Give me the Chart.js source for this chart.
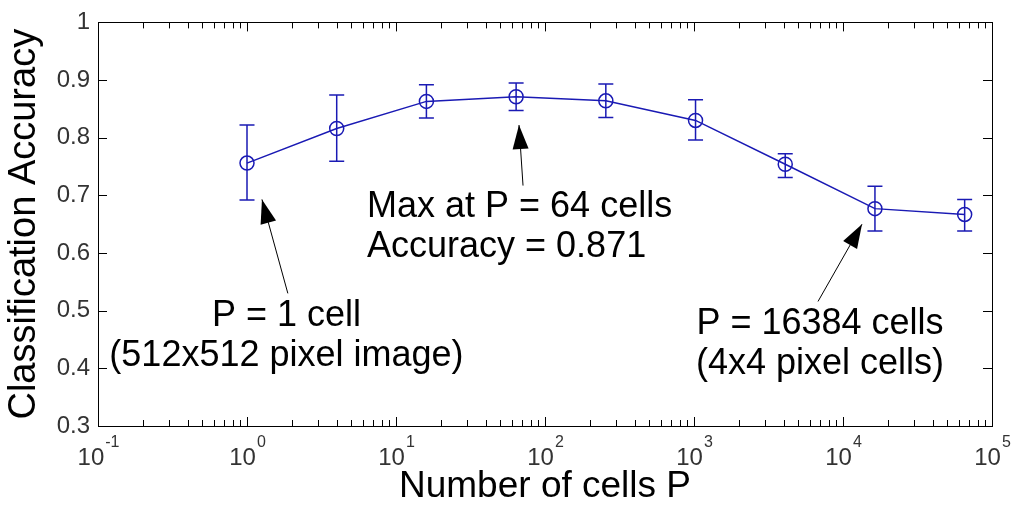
<!DOCTYPE html>
<html>
<head>
<meta charset="utf-8">
<script src="https://cdn.jsdelivr.net/npm/chart.js@4/dist/chart.umd.min.js"></script>
<style>
  html, body { margin: 0; padding: 0; background: #fff; }
  #wrap { width: 1011px; height: 510px; }
</style>
</head>
<body>
<div id="wrap"><canvas id="accChart"></canvas></div>
<script>
// number of cells P and mean accuracy with error bar limits
const cells    = [1, 4, 16, 64, 256, 1024, 4096, 16384, 65536];
const accuracy = [0.756, 0.816, 0.863, 0.871, 0.864, 0.830, 0.754, 0.677, 0.667];
const errLow   = [0.692, 0.759, 0.834, 0.847, 0.835, 0.796, 0.731, 0.638, 0.638];
const errHigh  = [0.822, 0.874, 0.892, 0.895, 0.893, 0.866, 0.772, 0.716, 0.693];

const xExponents = [-1, 0, 1, 2, 3, 4, 5];
const yTicks = [0.3, 0.4, 0.5, 0.6, 0.7, 0.8, 0.9, 1];

const FONT = '"Liberation Sans", Arial, sans-serif';
const BLUE = '#1a1ab4';

// text notes and arrows, in data coordinates
const notes = [
  { lines: ['P = 1 cell', '(512x512 pixel image)'], x: 1.84, y: 0.473, align: 'center' },
  { lines: ['Max at P = 64 cells', 'Accuracy = 0.871'], x: 6.39, y: 0.662, align: 'left' },
  { lines: ['P = 16384 cells', '(4x4 pixel cells)'], x: 7008, y: 0.460, align: 'center' }
];
const arrows = [
  { from: [1.88, 0.530], to: [1.26, 0.693] },
  { from: [71.2, 0.717], to: [66.9, 0.822] },
  { from: [6796, 0.516], to: [13410, 0.650] }
];

const errorBars = {
  id: 'errorBars',
  beforeDatasetsDraw(chart) {
    const { ctx, scales: { x, y } } = chart;
    ctx.save();
    ctx.strokeStyle = BLUE;
    ctx.lineWidth = 1.5;
    cells.forEach((c, i) => {
      const px = x.getPixelForValue(c);
      const lo = y.getPixelForValue(errLow[i]);
      const hi = y.getPixelForValue(errHigh[i]);
      ctx.beginPath();
      ctx.moveTo(px, lo); ctx.lineTo(px, hi);
      ctx.moveTo(px - 7.5, lo); ctx.lineTo(px + 7.5, lo);
      ctx.moveTo(px - 7.5, hi); ctx.lineTo(px + 7.5, hi);
      ctx.stroke();
    });
    ctx.restore();
  }
};

const frameAndNotes = {
  id: 'frameAndNotes',
  afterDraw(chart) {
    const { ctx, chartArea: a, scales: { x, y } } = chart;
    ctx.save();
    ctx.strokeStyle = '#000';
    ctx.lineWidth = 1;
    ctx.strokeRect(Math.round(a.left) + 0.5, Math.round(a.top) + 0.5,
                   Math.round(a.right - a.left), Math.round(a.bottom - a.top));

    // log ticks, top and bottom, pointing inward
    ctx.beginPath();
    xExponents.forEach((e, k) => {
      for (let m = 1; m <= 9; m++) {
        if (m > 1 && k === xExponents.length - 1) break;
        const px = Math.round(x.getPixelForValue(m * Math.pow(10, e))) + 0.5;
        const len = m === 1 ? 9 : 6;
        ctx.moveTo(px, a.bottom); ctx.lineTo(px, a.bottom - len);
        ctx.moveTo(px, a.top); ctx.lineTo(px, a.top + len);
      }
    });
    yTicks.forEach(v => {
      const py = Math.round(y.getPixelForValue(v)) + 0.5;
      ctx.moveTo(a.left, py); ctx.lineTo(a.left + 9, py);
      ctx.moveTo(a.right, py); ctx.lineTo(a.right - 9, py);
    });
    ctx.stroke();

    // 10^e labels
    ctx.fillStyle = '#333';
    ctx.textBaseline = 'alphabetic';
    ctx.textAlign = 'left';
    xExponents.forEach(e => {
      const px = x.getPixelForValue(Math.pow(10, e));
      ctx.font = '24px ' + FONT;
      const wBase = ctx.measureText('10').width;
      ctx.font = '16px ' + FONT;
      const wExp = ctx.measureText(String(e)).width;
      const left = px - (wBase + wExp) / 2;
      ctx.font = '24px ' + FONT;
      ctx.fillText('10', left, 465);
      ctx.font = '16px ' + FONT;
      ctx.fillText(String(e), left + wBase + 1, 447);
    });

    // annotations
    ctx.fillStyle = '#000';
    ctx.font = '36px ' + FONT;
    notes.forEach(n => {
      ctx.textAlign = n.align;
      const px = x.getPixelForValue(n.x);
      const py = y.getPixelForValue(n.y);
      n.lines.forEach((t, i) => ctx.fillText(t, px, py + i * 40));
    });

    arrows.forEach(ar => {
      const x0 = x.getPixelForValue(ar.from[0]), y0 = y.getPixelForValue(ar.from[1]);
      const x1 = x.getPixelForValue(ar.to[0]), y1 = y.getPixelForValue(ar.to[1]);
      const ang = Math.atan2(y1 - y0, x1 - x0);
      ctx.beginPath();
      ctx.moveTo(x0, y0); ctx.lineTo(x1, y1);
      ctx.stroke();
      const L = 24, W = 8;
      const bx = x1 - L * Math.cos(ang), by = y1 - L * Math.sin(ang);
      ctx.beginPath();
      ctx.moveTo(x1, y1);
      ctx.lineTo(bx + W * Math.sin(ang), by - W * Math.cos(ang));
      ctx.lineTo(bx - W * Math.sin(ang), by + W * Math.cos(ang));
      ctx.closePath();
      ctx.fill();
    });
    ctx.restore();
  }
};

new Chart(document.getElementById('accChart'), {
  type: 'scatter',
  data: {
    datasets: [{
      data: cells.map((c, i) => ({ x: c, y: accuracy[i] })),
      showLine: true,
      borderColor: BLUE,
      borderWidth: 1.5,
      pointStyle: 'circle',
      pointRadius: 7,
      pointBorderWidth: 1.5,
      pointBorderColor: BLUE,
      pointBackgroundColor: 'rgba(0,0,0,0)'
    }]
  },
  options: {
    responsive: true,
    maintainAspectRatio: false,
    animation: false,
    layout: { padding: { top: 18, right: 19, left: 0, bottom: 0 } },
    plugins: { legend: { display: false }, tooltip: { enabled: false } },
    scales: {
      x: {
        type: 'logarithmic',
        min: 0.1,
        max: 100000,
        ticks: { display: false },
        grid: { display: false, drawTicks: false },
        border: { display: false },
        title: {
          display: true,
          text: 'Number of cells P',
          color: '#000',
          font: { family: FONT, size: 37 },
          padding: { top: 0, bottom: 1 }
        },
        afterFit(s) { s.height = 84; }
      },
      y: {
        min: 0.3,
        max: 1,
        afterBuildTicks(s) { s.ticks = yTicks.map(v => ({ value: v })); },
        ticks: {
          color: '#333',
          font: { family: FONT, size: 24 },
          padding: 8,
          callback: v => String(Number(v.toFixed(1)))
        },
        grid: { display: false, drawTicks: false },
        border: { display: false },
        title: {
          display: true,
          text: 'Classification Accuracy',
          color: '#000',
          font: { family: FONT, size: 38 },
          padding: { top: 2, bottom: 0 }
        },
        afterFit(s) { s.width = 98; }
      }
    }
  },
  plugins: [errorBars, frameAndNotes]
});
</script>
</body>
</html>
